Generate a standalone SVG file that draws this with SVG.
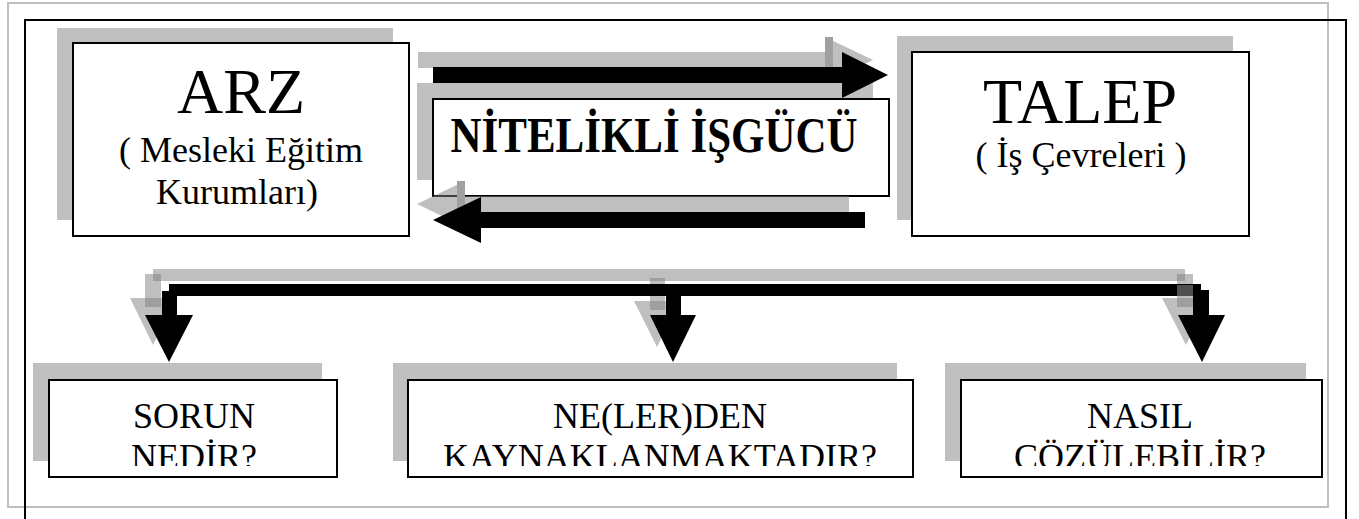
<svg xmlns="http://www.w3.org/2000/svg" width="1359" height="519" viewBox="0 0 1359 519">
  <defs>
    <style>
      .box { fill: #ffffff; stroke: #000000; stroke-width: 2; }
      .bshadow { fill: #c0c0c0; }
      .sh { fill: #808080; fill-opacity: 0.5; }
      .blk { fill: #000000; }
      .t { font-family: "Liberation Serif", "Times New Roman", serif; fill: #000000; text-anchor: middle; }
      .big { font-size: 64px; }
      .mid { font-size: 36px; }
      .lbl { font-size: 36px; }
    </style>
    <clipPath id="lowerClip">
      <rect x="0" y="0" width="1359" height="466"/>
    </clipPath>
  </defs>

  <rect width="1359" height="519" fill="#ffffff"/>

  <!-- page frames -->
  <rect x="8" y="3" width="1320" height="504" fill="none" stroke="#c0c0c0" stroke-width="2"/>
  <path d="M25,530 V20 H1346 V530" fill="none" stroke="#000000" stroke-width="2"/>

  <!-- supply -->
  <g id="arz">
    <rect class="bshadow" x="57" y="28" width="336" height="192"/>
    <rect class="box" x="73" y="43" width="336" height="193"/>
    <text class="t big" x="241" y="113">ARZ</text>
    <text class="t mid" x="241" y="162">( Mesleki Eğitim</text>
    <text class="t mid" x="237" y="204">Kurumları)</text>
  </g>

  <!-- demand -->
  <g id="talep">
    <rect class="bshadow" x="897" y="36" width="336" height="184"/>
    <rect class="box" x="912" y="52" width="337" height="184"/>
    <text class="t big" x="1080" y="123">TALEP</text>
    <text class="t mid" x="1081" y="167">( İş Çevreleri )</text>
  </g>

  <!-- qualified workforce -->
  <g id="isgucu">
    <rect class="bshadow" x="417" y="83" width="456" height="97"/>
    <rect class="box" x="433" y="99" width="456" height="97"/>
    <text class="t" x="654" y="152" font-size="50" font-weight="bold" textLength="407" lengthAdjust="spacingAndGlyphs">NİTELİKLİ İŞGÜCÜ</text>
  </g>

  <!-- question boxes -->
  <g id="sorun">
    <rect class="bshadow" x="33" y="363" width="289" height="98"/>
    <rect class="box" x="49" y="380" width="288" height="97"/>
    <text class="t lbl" x="194" y="428">SORUN</text>
    <text class="t lbl" x="194" y="469" clip-path="url(#lowerClip)">NEDİR?</text>
  </g>

  <g id="neden">
    <rect class="bshadow" x="393" y="363" width="504" height="98"/>
    <rect class="box" x="408" y="380" width="505" height="97"/>
    <text class="t lbl" x="660" y="428">NE(LER)DEN</text>
    <text class="t lbl" x="660" y="469" clip-path="url(#lowerClip)">KAYNAKLANMAKTADIR?</text>
  </g>

  <g id="nasil">
    <rect class="bshadow" x="945" y="363" width="361" height="98"/>
    <rect class="box" x="961" y="380" width="361" height="97"/>
    <text class="t lbl" x="1140" y="428">NASIL</text>
    <text class="t lbl" x="1140" y="469" clip-path="url(#lowerClip)">ÇÖZÜLEBİLİR?</text>
  </g>

  <!-- connectors -->
  <g id="connectors">
    <!-- arrow to TALEP: shadow then body -->
    <rect class="sh" x="418" y="52" width="415" height="16"/>
    <polygon class="sh" points="825,37 873,60 825,83"/>
    <rect x="825" y="37" width="8" height="30" fill="#a0a0a0"/>
    <polygon class="blk" points="433,67 842,67 842,52 888,75 842,98 842,83 433,83"/>

    <!-- arrow back to ARZ: shadow then body -->
    <rect class="sh" x="457" y="196" width="392" height="16"/>
    <polygon class="sh" points="417,204 465,181 465,227"/>
    <rect x="457" y="181" width="8" height="26" fill="#a0a0a0"/>
    <polygon class="blk" points="433,220 481,197 481,212 865,212 865,228 481,228 481,243"/>

    <!-- distribution bar shadow -->
    <rect class="sh" x="153" y="269" width="1032" height="12"/>
    <rect class="sh" x="145" y="274" width="16" height="33"/>
    <polygon class="sh" points="130,298 177,298 153,345"/>
    <rect class="sh" x="650" y="278" width="15" height="32"/>
    <polygon class="sh" points="634,301 680,301 657,347"/>
    <rect class="sh" x="1177" y="274" width="16" height="33"/>
    <polygon class="sh" points="1162,298 1209,298 1186,345"/>

    <!-- distribution bar body -->
    <rect class="blk" x="169" y="284" width="1032" height="12"/>
    <rect class="blk" x="162" y="291" width="15" height="25"/>
    <polygon class="blk" points="145,315 193,315 169,362"/>
    <rect class="blk" x="666" y="295" width="15" height="21"/>
    <polygon class="blk" points="650,315 696,315 673,362"/>
    <polygon class="blk" points="1193,284 1201,284 1201,290 1209,290 1209,316 1193,316"/>
    <polygon class="blk" points="1178,315 1225,315 1202,362"/>
    <rect x="1177" y="285" width="16" height="11" fill="#505050"/>
  </g>
</svg>
